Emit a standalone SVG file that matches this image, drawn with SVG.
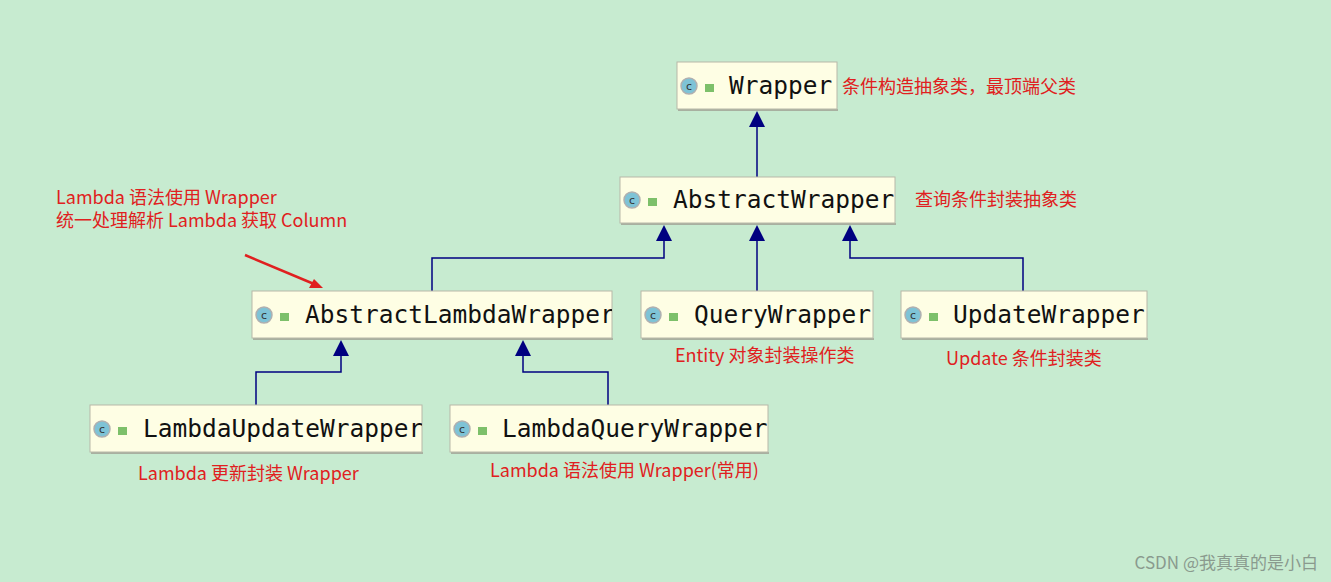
<svg xmlns="http://www.w3.org/2000/svg" width="1331" height="582" viewBox="0 0 1331 582">
<style>
.box{fill:#fefee4;stroke:#b8b8a8;stroke-width:1}
.sh{fill:#a8b0a0}
.nm{font-family:"DejaVu Sans Mono",monospace;font-size:24.5px;fill:#111}
.ic{fill:#7ec3d6;stroke:#b0b0b0;stroke-width:1.5}
.icc{font-family:"DejaVu Sans",sans-serif;font-size:11px;fill:#333;text-anchor:middle}
.lk{fill:#7dc06a}
.ln{fill:none;stroke:#000080;stroke-width:1.5}
.ah{fill:#000080}
.lb{font-family:"Microsoft YaHei","Noto Sans CJK SC",sans-serif;font-size:18px;fill:#e02020}
</style>
<rect width="1331" height="582" fill="#c7ebd0"/>
<defs>
<clipPath id="c1"><rect x="252" y="291" width="360" height="47"/></clipPath>
<clipPath id="c2"><rect x="90" y="405" width="332" height="47"/></clipPath>
<clipPath id="c3"><rect x="450" y="405" width="318" height="47"/></clipPath>
<clipPath id="c4"><rect x="620" y="177" width="275" height="47"/></clipPath>
</defs>
<g id="connectors">
<path class="ln" d="M757 177V124"/><path class="ah" d="M757 111l-8 16h16z"/>
<path class="ln" d="M432 291V258H664V238"/><path class="ah" d="M664 225l-8 16h16z"/>
<path class="ln" d="M757 291V238"/><path class="ah" d="M757 225l-8 16h16z"/>
<path class="ln" d="M1023 291V258H850V238"/><path class="ah" d="M850 225l-8 16h16z"/>
<path class="ln" d="M256 405V372H341V353"/><path class="ah" d="M341 340l-8 16h16z"/>
<path class="ln" d="M608 405V372H523V353"/><path class="ah" d="M523 340l-8 16h16z"/>
<path d="M245 255L314 284" stroke="#e02020" stroke-width="2.5"/><path d="M323 288l-14 0l5 -9z" fill="#e02020"/>
</g>
<g id="n-wrapper"><rect class="sh" x="678" y="109" width="160" height="2"/><rect class="box" x="677" y="62" width="160" height="47"/><circle class="ic" cx="689" cy="86" r="8"/><text class="icc" x="689" y="90">c</text><rect class="lk" x="705" y="84" width="9" height="8"/><text class="nm" x="729" y="94">Wrapper</text></g>
<g id="n-abstractwrapper"><rect class="sh" x="621" y="223" width="275" height="2"/><rect class="box" x="620" y="177" width="275" height="46"/><circle class="ic" cx="632" cy="200" r="8"/><text class="icc" x="632" y="204">c</text><rect class="lk" x="648" y="198" width="9" height="8"/><text class="nm" x="673" y="208" clip-path="url(#c4)">AbstractWrapper</text></g>
<g id="n-alw"><rect class="sh" x="253" y="338" width="360" height="2"/><rect class="box" x="252" y="291" width="360" height="47"/><circle class="ic" cx="264" cy="315" r="8"/><text class="icc" x="264" y="319">c</text><rect class="lk" x="280" y="313" width="9" height="8"/><text class="nm" x="305" y="323" clip-path="url(#c1)">AbstractLambdaWrapper</text></g>
<g id="n-qw"><rect class="sh" x="642" y="338" width="232" height="2"/><rect class="box" x="641" y="291" width="232" height="47"/><circle class="ic" cx="653" cy="315" r="8"/><text class="icc" x="653" y="319">c</text><rect class="lk" x="669" y="313" width="9" height="8"/><text class="nm" x="694" y="323">QueryWrapper</text></g>
<g id="n-uw"><rect class="sh" x="902" y="338" width="246" height="2"/><rect class="box" x="901" y="291" width="246" height="47"/><circle class="ic" cx="913" cy="315" r="8"/><text class="icc" x="913" y="319">c</text><rect class="lk" x="929" y="313" width="9" height="8"/><text class="nm" x="953" y="323">UpdateWrapper</text></g>
<g id="n-luw"><rect class="sh" x="91" y="452" width="332" height="2"/><rect class="box" x="90" y="405" width="332" height="47"/><circle class="ic" cx="102" cy="429" r="8"/><text class="icc" x="102" y="433">c</text><rect class="lk" x="118" y="427" width="9" height="8"/><text class="nm" x="143" y="437" clip-path="url(#c2)">LambdaUpdateWrapper</text></g>
<g id="n-lqw"><rect class="sh" x="451" y="452" width="318" height="2"/><rect class="box" x="450" y="405" width="318" height="47"/><circle class="ic" cx="462" cy="429" r="8"/><text class="icc" x="462" y="433">c</text><rect class="lk" x="478" y="427" width="9" height="8"/><text class="nm" x="502" y="437" clip-path="url(#c3)">LambdaQueryWrapper</text></g>
<g id="labels">
<text class="lb" x="842" y="93">条件构造抽象类，最顶端父类</text>
<text class="lb" x="915" y="206">查询条件封装抽象类</text>
<text class="lb" x="56" y="204">Lambda 语法使用 Wrapper</text>
<text class="lb" x="56" y="227">统一处理解析 Lambda 获取 Column</text>
<text class="lb" x="675" y="362">Entity 对象封装操作类</text>
<text class="lb" x="946" y="365">Update 条件封装类</text>
<text class="lb" x="138" y="480">Lambda 更新封装 Wrapper</text>
<text class="lb" x="490" y="477">Lambda 语法使用 Wrapper(常用)</text>
<text x="1318" y="569" text-anchor="end" font-family="Microsoft YaHei,'Noto Sans CJK SC',sans-serif" font-size="17" fill="#8a9a8e">CSDN @我真真的是小白</text>
</g>
</svg>
